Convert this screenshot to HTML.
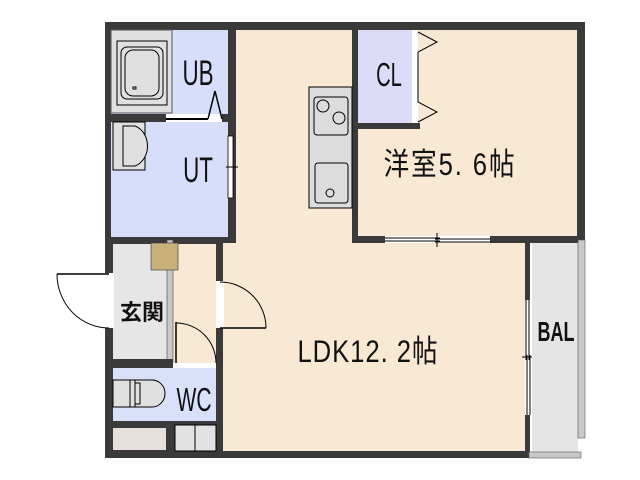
<!DOCTYPE html>
<html><head><meta charset="utf-8"><style>
html,body{margin:0;padding:0;background:#fff;width:640px;height:480px;overflow:hidden}
svg{display:block}
text{font-family:"Liberation Sans","Noto Sans CJK JP",sans-serif;fill:#111}
</style></head><body>
<svg width="640" height="480" viewBox="0 0 640 480" xmlns="http://www.w3.org/2000/svg">
<rect x="105" y="22" width="480" height="221" fill="#3a3a3a"/>
<rect x="105" y="236" width="425" height="222" fill="#3a3a3a"/>
<rect x="236" y="30" width="116" height="421" fill="#f8e8d4"/>
<rect x="223" y="243" width="302" height="208" fill="#f8e8d4"/>
<rect x="358" y="30" width="219" height="206" fill="#f8e8d4"/>
<rect x="358" y="30" width="54" height="93" fill="#dcdcf8"/>
<rect x="358" y="123" width="62" height="6" fill="#3a3a3a"/>
<rect x="412" y="30" width="6" height="93" fill="#fff"/>
<polyline points="418,32 437,42 418,52 418,102 437,112 418,122" fill="none" stroke="#000" stroke-width="1"/>
<rect x="385" y="236" width="105" height="7" fill="#fff"/>
<line x1="385" y1="238" x2="440" y2="238" stroke="#000"/><line x1="385" y1="241" x2="440" y2="241" stroke="#000"/>
<line x1="435" y1="239" x2="490" y2="239" stroke="#000"/><line x1="435" y1="242" x2="490" y2="242" stroke="#000"/>
<line x1="437" y1="233" x2="437" y2="247" stroke="#000"/>
<rect x="111" y="30" width="117" height="84" fill="#d6defa"/>
<rect x="111" y="30" width="61" height="83" fill="#e0e0e0" stroke="#555" stroke-width="1"/>
<rect x="117" y="41" width="50" height="64" fill="none" stroke="#000"/>
<rect x="121" y="47" width="42" height="52" rx="6" fill="none" stroke="#000"/>
<rect x="125" y="50" width="34" height="46" rx="8" fill="none" stroke="#000"/>
<rect x="133" y="87" width="3" height="2" fill="none" stroke="#000"/>
<rect x="105" y="114" width="61" height="8" fill="#3a3a3a"/>
<rect x="166" y="114" width="56" height="8" fill="#fff"/>
<line x1="166" y1="119" x2="208" y2="119" stroke="#000" stroke-width="2"/>
<polyline points="208,119 215,91 222,119" fill="none" stroke="#000" stroke-width="1.5"/>
<rect x="111" y="122" width="117" height="115" fill="#d6defa"/>
<rect x="113" y="122" width="32" height="48" fill="#e0e0e0" stroke="#000"/>
<path d="M123,126 L135,126 A18,21 0 0 1 135,166 L123,166 Z" fill="#e0e0e0" stroke="#000"/>
<rect x="228" y="136" width="5" height="62" fill="#fff" stroke="#000" stroke-width="0.8"/>
<line x1="226" y1="167" x2="238" y2="167" stroke="#000"/>
<rect x="309" y="87" width="43" height="121" fill="#dcdcdc" stroke="#000"/>
<rect x="314" y="97" width="34" height="38" rx="3" fill="none" stroke="#000"/>
<circle cx="323" cy="106" r="6" fill="none" stroke="#000"/>
<circle cx="339" cy="118" r="6" fill="none" stroke="#000"/>
<rect x="315" y="163" width="33" height="40" rx="3" fill="none" stroke="#000"/>
<circle cx="330" cy="193" r="4" fill="none" stroke="#000"/>
<rect x="113" y="244" width="54" height="115" fill="#e6e6e6"/>
<rect x="173" y="244" width="43" height="123" fill="#f8e8d4"/>
<rect x="167" y="240" width="6" height="123" fill="#c8c8c8" stroke="#444" stroke-width="0.6"/>
<rect x="151" y="243" width="27" height="27" fill="#c8b07a" stroke="#333" stroke-width="0.6"/>
<rect x="104" y="273" width="10" height="55" fill="#fff"/>
<path d="M57,274 L109,274" stroke="#000" stroke-width="1.5"/>
<path d="M57,274 A52,54 0 0 0 109,328" fill="none" stroke="#000"/>
<rect x="216" y="281" width="8" height="47" fill="#fff"/>
<line x1="220" y1="328" x2="266" y2="328" stroke="#000" stroke-width="1.5"/>
<path d="M220,282 A46,46 0 0 1 266,328" fill="none" stroke="#000"/>
<rect x="113" y="359" width="60" height="8" fill="#3a3a3a"/>
<rect x="173" y="363" width="43" height="5" fill="#fff"/>
<line x1="176" y1="322" x2="176" y2="363" stroke="#000" stroke-width="1.5"/>
<path d="M176,323 A40,40 0 0 1 216,363" fill="none" stroke="#000"/>
<rect x="113" y="368" width="103" height="53" fill="#d8e0fa"/>
<path d="M113,380 L152,380 A13,13.5 0 0 1 152,407 L113,407 Z" fill="#e0e0e0" stroke="#000"/>
<rect x="130" y="380" width="5" height="27" fill="none" stroke="#000"/>
<rect x="135" y="383" width="5" height="21" fill="none" stroke="#000"/>
<rect x="113" y="428" width="53" height="22" fill="#e6dfdc"/>
<rect x="175" y="425" width="41" height="26" fill="#e2e2e2" stroke="#000"/>
<line x1="195" y1="425" x2="195" y2="451" stroke="#000"/>
<rect x="532" y="243" width="46" height="209" fill="#e4e4e4"/>
<rect x="578" y="240" width="7" height="198" fill="#c8c8c8" stroke="#555" stroke-width="0.6"/>
<rect x="529" y="452" width="52" height="6" fill="#c8c8c8" stroke="#555" stroke-width="0.6"/>
<rect x="525" y="300" width="6" height="115" fill="#fff"/>
<line x1="526" y1="300" x2="526" y2="360" stroke="#000"/><line x1="529" y1="300" x2="529" y2="360" stroke="#000"/>
<line x1="527" y1="355" x2="527" y2="415" stroke="#000"/><line x1="530" y1="355" x2="530" y2="415" stroke="#000"/>
<line x1="522" y1="357" x2="532" y2="357" stroke="#000"/>
<text x="0" y="0" font-size="28" text-anchor="middle" transform="translate(198,85) scale(0.8,1.25)">UB</text>
<text x="0" y="0" font-size="28" text-anchor="middle" transform="translate(198,182) scale(0.8,1.25)">UT</text>
<text x="0" y="0" font-size="28" text-anchor="middle" transform="translate(389,86) scale(0.72,1.2)">CL</text>
<text x="0" y="0" font-size="27" text-anchor="middle" letter-spacing="2" transform="translate(450,175) scale(0.95,1.15)">洋室5. 6帖</text>
<text x="0" y="0" font-size="27" text-anchor="middle" letter-spacing="1" transform="translate(368,362) scale(0.95,1.15)">LDK12. 2帖</text>
<text x="0" y="0" font-size="24" text-anchor="middle" font-weight="bold" transform="translate(556,341) scale(0.75,1.15)">BAL</text>
<text x="0" y="0" font-size="22" text-anchor="middle" font-weight="bold" transform="translate(142,320)">玄関</text>
<text x="0" y="0" font-size="28" text-anchor="middle" transform="translate(194,411) scale(0.75,1.2)">WC</text>
</svg>
</body></html>
